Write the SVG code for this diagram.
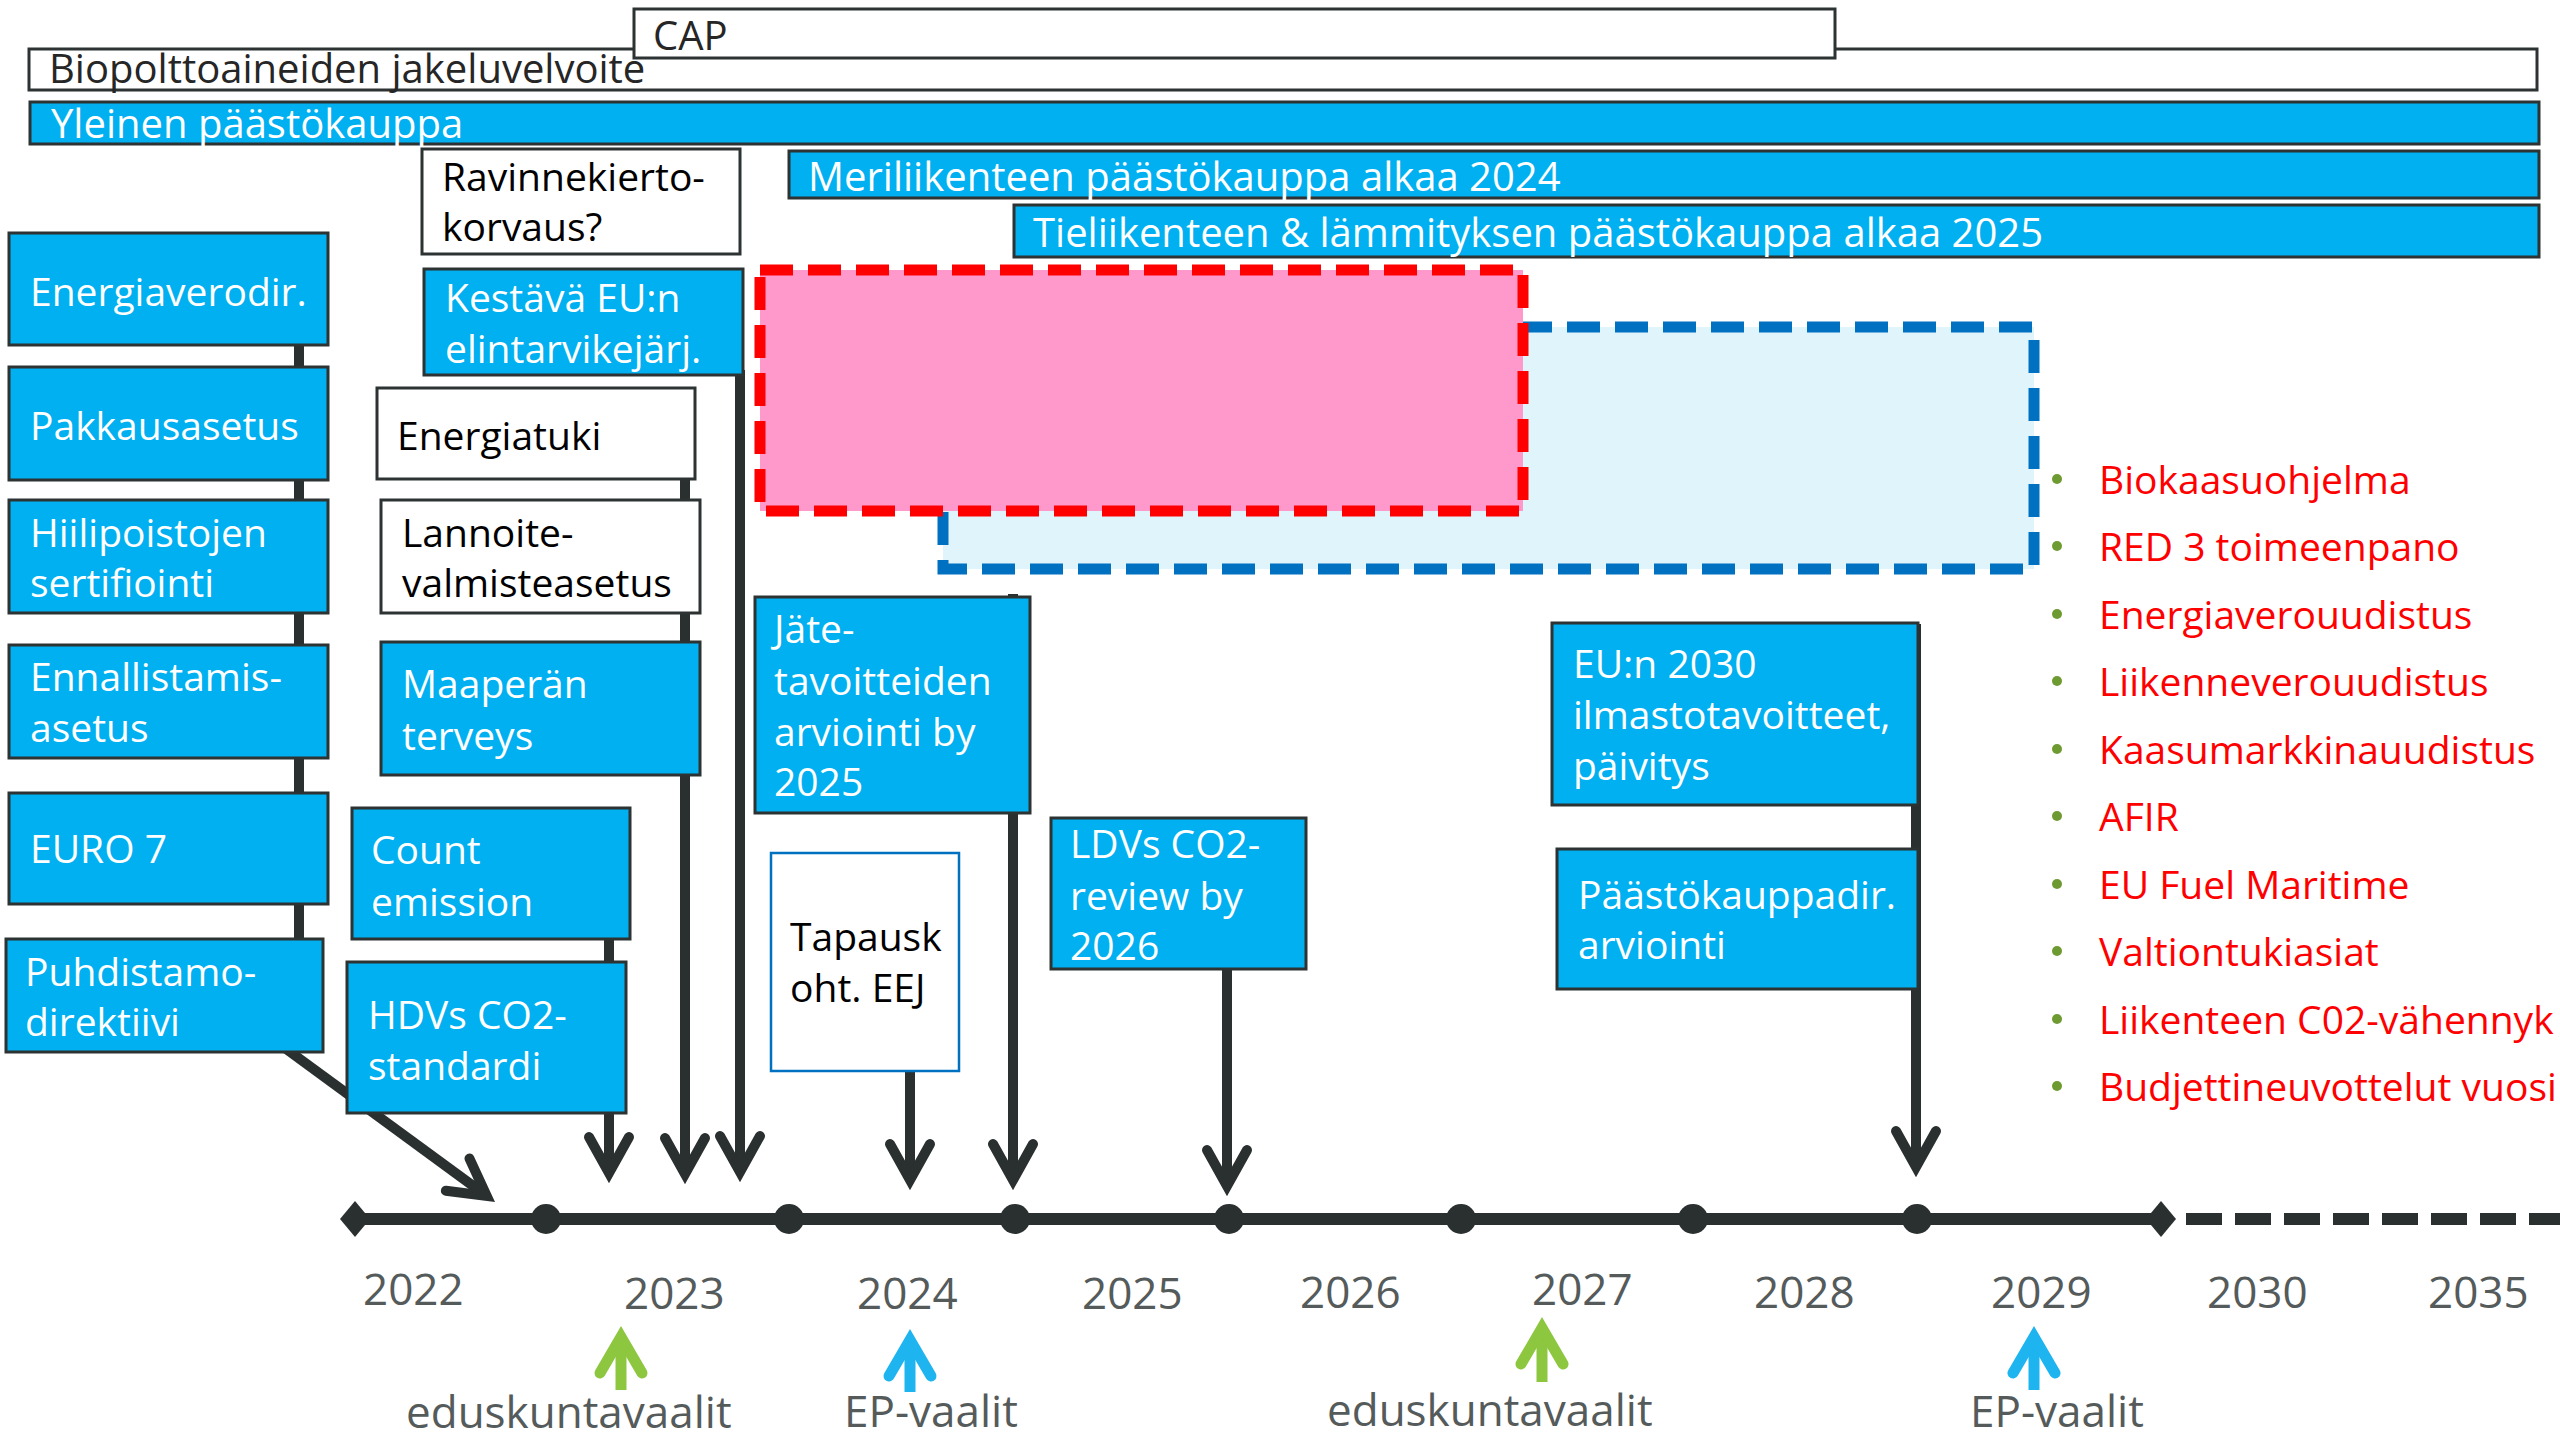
<svg xmlns="http://www.w3.org/2000/svg" width="2560" height="1440" viewBox="0 0 2560 1440">
<style>
text{font-family:"Open Sans","Noto Sans",sans-serif;}
.bar{font-size:40px;}
.t{font-size:39px;}
.w{fill:#ffffff;}
.k{fill:#000000;}
.dk{fill:#262626;}
.blue{fill:#00B0F0;stroke:#2d3333;stroke-width:3;}
.white{fill:#ffffff;stroke:#2d3333;stroke-width:3;}
.conn{fill:none;stroke:#2a2f2f;stroke-width:10;}
.yr{font-size:44px;fill:#555b5b;}
.lbl{font-size:44px;fill:#555b5b;}
.li{font-size:39px;fill:#FF0000;}
.bul{fill:#6e9a32;}
.dot{fill:#2a2f2f;}
</style>
<defs>
<marker id="ah" markerUnits="userSpaceOnUse" orient="auto" refX="0" refY="0" markerWidth="90" markerHeight="90" overflow="visible">
<path d="M-36,-20 L0,0 L-36,20" fill="none" stroke="#2a2f2f" stroke-width="10" stroke-linecap="round" stroke-linejoin="miter"/>
</marker>
<marker id="ahg" markerUnits="userSpaceOnUse" orient="auto" refX="0" refY="0" markerWidth="90" markerHeight="90" overflow="visible">
<path d="M-36,-21 L0,0 L-36,21" fill="none" stroke="#8DC63F" stroke-width="11" stroke-linecap="round" stroke-linejoin="miter"/>
</marker>
<marker id="ahb" markerUnits="userSpaceOnUse" orient="auto" refX="0" refY="0" markerWidth="90" markerHeight="90" overflow="visible">
<path d="M-36,-21 L0,0 L-36,21" fill="none" stroke="#1DB4F0" stroke-width="11" stroke-linecap="round" stroke-linejoin="miter"/>
</marker>
</defs>
<rect width="2560" height="1440" fill="#ffffff"/>

<!-- top bars -->
<g id="bio"><rect class="white" x="29" y="49" width="2508" height="41"/><text class="bar dk" x="49" y="83">Biopolttoaineiden jakeluvelvoite</text></g>
<g id="cap"><rect class="white" x="634" y="9" width="1201" height="49"/><text class="bar dk" x="653" y="50">CAP</text></g>
<g id="yleinen"><rect class="blue" x="30" y="102" width="2509" height="42"/><text class="bar w" x="51" y="138">Yleinen päästökauppa</text></g>
<g id="meri"><rect class="blue" x="789" y="151" width="1750" height="47"/><text class="bar w" x="808" y="191">Meriliikenteen päästökauppa alkaa 2024</text></g>
<g id="tie"><rect class="blue" x="1014" y="205" width="1525" height="52"/><text class="bar w" x="1033" y="247">Tieliikenteen &amp; lämmityksen päästökauppa alkaa 2025</text></g>

<!-- highlight areas -->
<g id="bluearea"><rect x="943" y="327" width="1091" height="242" fill="#E0F4FB" stroke="#0070C0" stroke-width="11" stroke-dasharray="33 15"/></g>
<g id="pinkarea"><rect x="760" y="270" width="763" height="241" fill="#FF99CC" stroke="#FF0000" stroke-width="11" stroke-dasharray="33 15"/></g>

<!-- timeline -->
<g id="timeline">
<line x1="355" y1="1219" x2="2161" y2="1219" stroke="#2a2f2f" stroke-width="12"/>
<line x1="2186" y1="1219" x2="2560" y2="1219" stroke="#2a2f2f" stroke-width="12" stroke-dasharray="36 13"/>
<polygon class="dot" points="340,1219 355,1201 370,1219 355,1237"/>
<polygon class="dot" points="2146,1219 2161,1201 2176,1219 2161,1237"/>
<circle class="dot" cx="546" cy="1219" r="15"/>
<circle class="dot" cx="789" cy="1219" r="15"/>
<circle class="dot" cx="1015" cy="1219" r="15"/>
<circle class="dot" cx="1229" cy="1219" r="15"/>
<circle class="dot" cx="1461" cy="1219" r="15"/>
<circle class="dot" cx="1693" cy="1219" r="15"/>
<circle class="dot" cx="1917" cy="1219" r="15"/>
<text class="yr" x="363" y="1305">2022</text>
<text class="yr" x="624" y="1309">2023</text>
<text class="yr" x="857" y="1309">2024</text>
<text class="yr" x="1082" y="1309">2025</text>
<text class="yr" x="1300" y="1308">2026</text>
<text class="yr" x="1532" y="1305">2027</text>
<text class="yr" x="1754" y="1308">2028</text>
<text class="yr" x="1991" y="1308">2029</text>
<text class="yr" x="2207" y="1308">2030</text>
<text class="yr" x="2428" y="1308">2035</text>
</g>

<!-- connectors -->
<g id="connectors">
<line class="conn" x1="299" y1="340" x2="299" y2="945"/>
<line class="conn" x1="285.2" y1="1048.3" x2="486.7" y2="1195.9" marker-end="url(#ah)"/>
<line class="conn" x1="609" y1="930" x2="609" y2="1173" marker-end="url(#ah)"/>
<line class="conn" x1="685" y1="475" x2="685" y2="1174" marker-end="url(#ah)"/>
<line class="conn" x1="740" y1="370" x2="740" y2="1172" marker-end="url(#ah)"/>
<line class="conn" x1="1013" y1="594" x2="1013" y2="1180" marker-end="url(#ah)"/>
<line class="conn" x1="910" y1="1066" x2="910" y2="1180" marker-end="url(#ah)"/>
<line class="conn" x1="1227" y1="965" x2="1227" y2="1186" marker-end="url(#ah)"/>
<line class="conn" x1="1916" y1="624" x2="1916" y2="1167" marker-end="url(#ah)"/>
<line x1="621" y1="1390" x2="621" y2="1337" stroke="#8DC63F" stroke-width="11" marker-end="url(#ahg)"/>
<line x1="910" y1="1392" x2="910" y2="1340" stroke="#1DB4F0" stroke-width="11" marker-end="url(#ahb)"/>
<line x1="1542" y1="1382" x2="1542" y2="1328" stroke="#8DC63F" stroke-width="11" marker-end="url(#ahg)"/>
<line x1="2034" y1="1390" x2="2034" y2="1337" stroke="#1DB4F0" stroke-width="11" marker-end="url(#ahb)"/>
</g>

<!-- left column -->
<g id="energiaverodir"><rect class="blue" x="9" y="233" width="319" height="112"/><text class="t w" x="30" y="306">Energiaverodir.</text></g>
<g id="pakkausasetus"><rect class="blue" x="9" y="367" width="319" height="113"/><text class="t w" x="30" y="440">Pakkausasetus</text></g>
<g id="hiilipoistojen"><rect class="blue" x="9" y="500" width="319" height="113"/><text class="t w" x="30" y="547">Hiilipoistojen<tspan x="30" y="597">sertifiointi</tspan></text></g>
<g id="ennallistamis"><rect class="blue" x="9" y="645" width="319" height="113"/><text class="t w" x="30" y="691">Ennallistamis-<tspan x="30" y="742">asetus</tspan></text></g>
<g id="euro7"><rect class="blue" x="9" y="793" width="319" height="111"/><text class="t w" x="30" y="863">EURO 7</text></g>
<g id="puhdistamo"><rect class="blue" x="6" y="939" width="317" height="113"/><text class="t w" x="25" y="986">Puhdistamo-<tspan x="25" y="1036">direktiivi</tspan></text></g>

<!-- middle column -->
<g id="ravinne"><rect class="white" x="422" y="149" width="318" height="105"/><text class="t k" x="442" y="191">Ravinnekierto-<tspan x="442" y="241">korvaus?</tspan></text></g>
<g id="kestava"><rect class="blue" x="424" y="269" width="319" height="106"/><text class="t w" x="445" y="312">Kestävä EU:n<tspan x="445" y="363">elintarvikejärj.</tspan></text></g>
<g id="energiatuki"><rect class="white" x="377" y="388" width="318" height="91"/><text class="t k" x="397" y="450">Energiatuki</text></g>
<g id="lannoite"><rect class="white" x="381" y="500" width="319" height="113"/><text class="t k" x="402" y="547">Lannoite-<tspan x="402" y="597">valmisteasetus</tspan></text></g>
<g id="maaperan"><rect class="blue" x="381" y="642" width="319" height="133"/><text class="t w" x="402" y="698">Maaperän<tspan x="402" y="750">terveys</tspan></text></g>
<g id="count"><rect class="blue" x="352" y="808" width="278" height="131"/><text class="t w" x="371" y="864">Count<tspan x="371" y="916">emission</tspan></text></g>
<g id="hdvs"><rect class="blue" x="347" y="962" width="279" height="151"/><text class="t w" x="368" y="1029">HDVs CO2-<tspan x="368" y="1080">standardi</tspan></text></g>
<g id="jate"><rect class="blue" x="755" y="597" width="275" height="216"/><text class="t w" x="774" y="643">Jäte-<tspan x="774" y="695">tavoitteiden</tspan><tspan x="774" y="746">arviointi by</tspan><tspan x="774" y="796">2025</tspan></text></g>
<g id="tapausk"><rect x="771" y="853" width="188" height="218" fill="#ffffff" stroke="#0070C0" stroke-width="2.5"/><text class="t k" x="790" y="951">Tapausk<tspan x="790" y="1002">oht. EEJ</tspan></text></g>
<g id="ldvs"><rect class="blue" x="1051" y="818" width="255" height="151"/><text class="t w" x="1070" y="858">LDVs CO2-<tspan x="1070" y="910">review by</tspan><tspan x="1070" y="960">2026</tspan></text></g>
<g id="eu2030"><rect class="blue" x="1552" y="623" width="366" height="182"/><text class="t w" x="1573" y="678">EU:n 2030<tspan x="1573" y="729">ilmastotavoitteet,</tspan><tspan x="1573" y="780">päivitys</tspan></text></g>
<g id="paastokauppadir"><rect class="blue" x="1557" y="849" width="361" height="140"/><text class="t w" x="1578" y="909">Päästökauppadir.<tspan x="1578" y="959">arviointi</tspan></text></g>

<!-- election labels -->
<g id="elections">
<text class="lbl" x="406" y="1428">eduskuntavaalit</text>
<text class="lbl" x="844" y="1427">EP-vaalit</text>
<text class="lbl" x="1327" y="1426">eduskuntavaalit</text>
<text class="lbl" x="1970" y="1427">EP-vaalit</text>
</g>

<!-- bullet list -->
<g id="list">
<circle class="bul" cx="2057" cy="479" r="5"/><text class="li" x="2099" y="494">Biokaasuohjelma</text>
<circle class="bul" cx="2057" cy="546" r="5"/><text class="li" x="2099" y="561">RED 3 toimeenpano</text>
<circle class="bul" cx="2057" cy="614" r="5"/><text class="li" x="2099" y="629">Energiaverouudistus</text>
<circle class="bul" cx="2057" cy="681" r="5"/><text class="li" x="2099" y="696">Liikenneverouudistus</text>
<circle class="bul" cx="2057" cy="749" r="5"/><text class="li" x="2099" y="764">Kaasumarkkinauudistus</text>
<circle class="bul" cx="2057" cy="816" r="5"/><text class="li" x="2099" y="831">AFIR</text>
<circle class="bul" cx="2057" cy="884" r="5"/><text class="li" x="2099" y="899">EU Fuel Maritime</text>
<circle class="bul" cx="2057" cy="951" r="5"/><text class="li" x="2099" y="966">Valtiontukiasiat</text>
<circle class="bul" cx="2057" cy="1019" r="5"/><text class="li" x="2099" y="1034">Liikenteen C02-vähennyk</text>
<circle class="bul" cx="2057" cy="1086" r="5"/><text class="li" x="2099" y="1101">Budjettineuvottelut vuosi</text>
</g>
</svg>
